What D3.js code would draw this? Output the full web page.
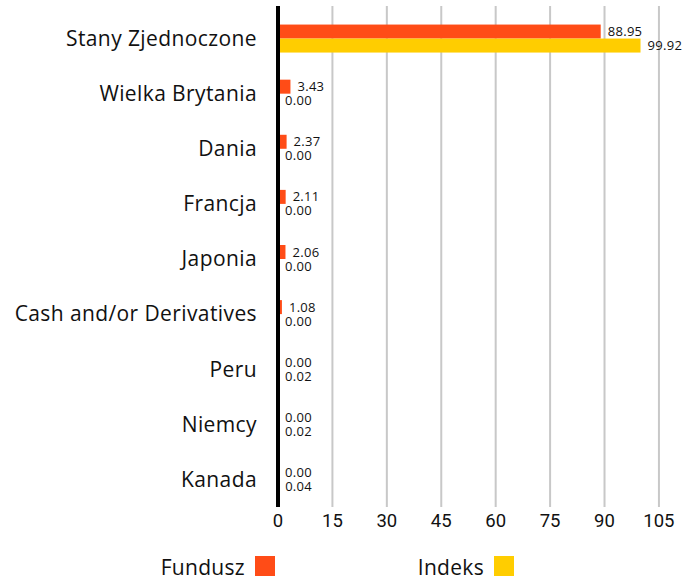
<!DOCTYPE html>
<html>
<head>
<meta charset="utf-8">
<script src="https://cdn.jsdelivr.net/npm/d3@7"></script>
<style>
  body { margin: 0; background: #fff; }
  text { font-family: "Open Sans", "Roboto", sans-serif; fill: #111; }
  .tick { font-family: "Roboto", sans-serif; }
</style>
</head>
<body>
<div id="chart"></div>
<script>
var categories = ["Stany Zjednoczone", "Wielka Brytania", "Dania", "Francja", "Japonia",
                  "Cash and/or Derivatives", "Peru", "Niemcy", "Kanada"];
var funduszValues = [88.95, 3.43, 2.37, 2.11, 2.06, 1.08, 0.00, 0.00, 0.00];
var indeksValues  = [99.92, 0.00, 0.00, 0.00, 0.00, 0.00, 0.02, 0.02, 0.04];
var xTicks = [0, 15, 30, 45, 60, 75, 90, 105];
var seriesNames = ["Fundusz", "Indeks"];
var seriesColors = ["#ff4c17", "#ffcd00"];

var width = 700, height = 581;
var x0 = 278, plotTop = 6, plotBottom = 507;

var svg = d3.select("#chart").append("svg")
    .attr("width", width).attr("height", height);

var xScale = d3.scaleLinear().domain([0, 105]).range([x0, x0 + 105 * 3.628]);
var yScale = d3.scaleBand().domain(categories).range([plotTop + 5, plotBottom]);
var sub = d3.scaleBand().domain(seriesNames).range([yScale.bandwidth() / 2 - 14, yScale.bandwidth() / 2 + 14]);

// grid lines
svg.append("g").selectAll("line")
    .data(xTicks.filter(function(d) { return d > 0; }))
    .enter().append("line")
    .attr("x1", function(d) { return xScale(d); })
    .attr("x2", function(d) { return xScale(d); })
    .attr("y1", plotTop).attr("y2", plotBottom)
    .attr("stroke", "#c8c8c8").attr("stroke-width", 2);

// tick labels
svg.append("g").selectAll("text")
    .data(xTicks)
    .enter().append("text")
    .attr("class", "tick")
    .attr("x", function(d) { return xScale(d); })
    .attr("y", 527)
    .attr("text-anchor", "middle")
    .attr("font-size", 18.5)
    .text(function(d) { return d; });

// category labels
svg.append("g").selectAll("text")
    .data(categories)
    .enter().append("text")
    .attr("x", 257)
    .attr("y", function(d) { return yScale(d) + yScale.bandwidth() / 2; })
    .attr("dy", "0.35em")
    .attr("text-anchor", "end")
    .attr("font-size", 21)
    .attr("letter-spacing", 0.4)
    .text(function(d) { return d; });

var rows = categories.map(function(c, i) {
    return [
        { cat: c, s: "Fundusz", v: funduszValues[i], color: seriesColors[0] },
        { cat: c, s: "Indeks", v: indeksValues[i], color: seriesColors[1] }
    ];
});
var flat = d3.merge(rows);

svg.append("g").selectAll("rect")
    .data(flat)
    .enter().append("rect")
    .attr("x", x0)
    .attr("y", function(d) { return yScale(d.cat) + sub(d.s); })
    .attr("width", function(d) { return xScale(d.v) - x0; })
    .attr("height", sub.bandwidth())
    .attr("fill", function(d) { return d.color; });

svg.append("g").selectAll("text")
    .data(flat)
    .enter().append("text")
    .attr("x", function(d) { return xScale(d.v) + 7; })
    .attr("y", function(d) { return yScale(d.cat) + sub(d.s) + sub.bandwidth() / 2; })
    .attr("dy", "0.35em")
    .attr("font-size", 13)
    .attr("letter-spacing", 0.3)
    .text(function(d) { return d.v.toFixed(2); });

// zero axis
svg.append("line")
    .attr("x1", x0).attr("x2", x0)
    .attr("y1", plotTop).attr("y2", plotBottom)
    .attr("stroke", "#000").attr("stroke-width", 4);

// legend
var legendX = [245, 484];
var legend = svg.append("g").selectAll("g")
    .data(seriesNames)
    .enter().append("g");
legend.append("text")
    .attr("x", function(d, i) { return legendX[i]; })
    .attr("y", 575)
    .attr("text-anchor", "end")
    .attr("font-size", 21)
    .attr("letter-spacing", 0.3)
    .text(function(d) { return d; });
legend.append("rect")
    .attr("x", function(d, i) { return legendX[i] + 10; })
    .attr("y", 556)
    .attr("width", 20).attr("height", 20)
    .attr("fill", function(d, i) { return seriesColors[i]; });
</script>
</body>
</html>
